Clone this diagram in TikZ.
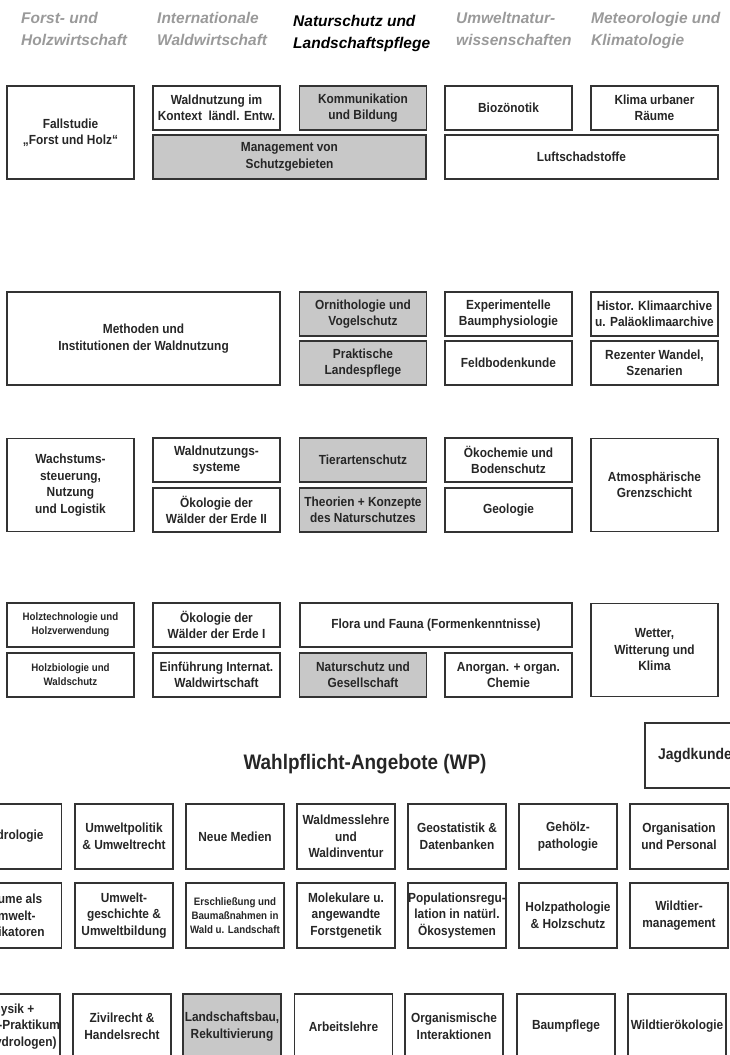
\documentclass[tikz,border=0pt]{standalone}
\usepackage{fontspec}
\setmainfont{Liberation Sans}
\newfontfamily\narrowsans{Liberation Sans}[FakeStretch=0.9]

\definecolor{boxgray}{HTML}{C8C8C8}
\definecolor{headgray}{HTML}{9A9A9A}
\definecolor{boxline}{HTML}{333333}

\begin{document}
\begin{tikzpicture}[x=1pt,y=-1pt,
    kopf/.style={anchor=north west,inner sep=0pt,align=left,text=headgray,
      font=\bfseries\itshape\fontsize{15.5}{22.5}\selectfont},
    modul/.style={draw=boxline,line width=1.3pt,inner sep=0pt,align=center,
      text=black!85,font=\narrowsans\bfseries\fontsize{13.2}{16.5}\selectfont},
    nsmodul/.style={modul,fill=boxgray},
    klein/.style={font=\narrowsans\bfseries\fontsize{10.8}{14}\selectfont},
    schmal/.style={minimum width=127pt},
    breit/.style={minimum width=273pt},
    hoch/.style={minimum height=93pt},
    flach/.style={minimum height=44pt},
    wp/.style={modul,minimum width=98pt,minimum height=65pt}]
  \useasboundingbox (0,0) rectangle (729,1055);

  % Studienrichtungen
  \node[kopf] (h-forst) at (21,12) {Forst- und\\Holzwirtschaft};
  \node[kopf] (h-intern) at (157,12) {Internationale\\Waldwirtschaft};
  \node[kopf,text=black] (h-natur) at (293,15) {Naturschutz und\\Landschaftspflege};
  \node[kopf] (h-umwelt) at (456,12) {Umweltnatur-\\wissenschaften};
  \node[kopf] (h-meteo) at (591,12) {Meteorologie und\\Klimatologie};

  % Zeile 1
  \node[modul,schmal,hoch] (fallstudie) at (70.5,132.5) {Fallstudie\\„Forst und Holz“};
  \node[modul,schmal,flach] (waldkontext) at (216.5,108) {Waldnutzung im\\Kontext\ \ ländl. Entw.};
  \node[nsmodul,schmal,flach] (kommunikation) at (363,108) {Kommunikation\\und Bildung};
  \node[nsmodul,breit,flach] (management) at (289.5,157) {Management von\\Schutzgebieten};
  \node[modul,schmal,flach] (biozoenotik) at (508.5,108) {Biozönotik};
  \node[modul,schmal,flach] (klimaurban) at (654.5,108) {Klima urbaner\\Räume};
  \node[modul,breit,flach] (luftschad) at (581.5,157) {Luftschadstoffe};

  % Zeile 2
  \node[modul,breit,hoch] (methoden) at (143.5,338.5) {Methoden und\\Institutionen der Waldnutzung};
  \node[nsmodul,schmal,flach] (ornitho) at (363,314) {Ornithologie und\\Vogelschutz};
  \node[nsmodul,schmal,flach] (landespflege) at (363,363) {Praktische\\Landespflege};
  \node[modul,schmal,flach] (baumphys) at (508.5,314) {Experimentelle\\Baumphysiologie};
  \node[modul,schmal,flach] (feldboden) at (508.5,363) {Feldbodenkunde};
  \node[modul,schmal,flach] (klimaarchiv) at (654.5,314) {Histor. Klimaarchive\\u. Paläoklimaarchive};
  \node[modul,schmal,flach] (wandel) at (654.5,363) {Rezenter Wandel,\\Szenarien};

  % Zeile 3
  \node[modul,schmal,hoch] (wachstum) at (70.5,485) {Wachstums-\\steuerung,\\Nutzung\\und Logistik};
  \node[modul,schmal,flach] (nutzsysteme) at (216.5,460) {Waldnutzungs-\\systeme};
  \node[modul,schmal,flach] (oekozwei) at (216.5,510) {Ökologie der\\Wälder der Erde II};
  \node[nsmodul,schmal,flach] (tierarten) at (363,460) {Tierartenschutz};
  \node[nsmodul,schmal,flach] (theorien) at (363,510) {Theorien + Konzepte\\des Naturschutzes};
  \node[modul,schmal,flach] (oekochemie) at (508.5,460) {Ökochemie und\\Bodenschutz};
  \node[modul,schmal,flach] (geologie) at (508.5,510) {Geologie};
  \node[modul,schmal,hoch] (grenzschicht) at (654.5,485) {Atmosphärische\\Grenzschicht};

  % Zeile 4
  \node[modul,klein,schmal,flach] (holztech) at (70.5,625) {Holztechnologie und\\Holzverwendung};
  \node[modul,klein,schmal,flach] (holzbio) at (70.5,675) {Holzbiologie und\\Waldschutz};
  \node[modul,schmal,flach] (oekoeins) at (216.5,625) {Ökologie der\\Wälder der Erde I};
  \node[modul,schmal,flach] (einfuehrung) at (216.5,675) {Einführung Internat.\\Waldwirtschaft};
  \node[modul,minimum width=272pt,flach] (florafauna) at (436,625) {Flora und Fauna (Formenkenntnisse)};
  \node[nsmodul,schmal,flach] (gesellschaft) at (363,675) {Naturschutz und\\Gesellschaft};
  \node[modul,schmal,flach] (chemie) at (508.5,675) {Anorgan. + organ.\\Chemie};
  \node[modul,schmal,hoch] (wetter) at (654.5,650) {Wetter,\\Witterung und\\Klima};

  % Wahlpflicht
  \node[modul,minimum width=100pt,minimum height=65pt,
    font=\narrowsans\bfseries\fontsize{15.5}{18}\selectfont] (jagd) at (695,755.5) {Jagdkunde};
  \node[text=black!85,font=\narrowsans\bfseries\fontsize{21}{25}\selectfont] (wptitel) at (365,764) {Wahlpflicht-Angebote (WP)};

  \node[wp] (hydro) at (12.5,836.5) {Hydrologie};
  \node[wp] (umweltpol) at (124,836.5) {Umweltpolitik\\\& Umweltrecht};
  \node[wp] (medien) at (235,836.5) {Neue Medien};
  \node[wp] (messlehre) at (346,836.5) {Waldmesslehre\\und\\Waldinventur};
  \node[wp] (geostat) at (457,836.5) {Geostatistik \&\\Datenbanken};
  \node[wp] (gehoelz) at (568,836.5) {Gehölz-\\pathologie};
  \node[wp] (personal) at (679,836.5) {Organisation\\und Personal};

  \node[wp] (indikator) at (12.5,915.5) {Bäume als\\Umwelt-\\indikatoren};
  \node[wp] (umweltgesch) at (124,915.5) {Umwelt-\\geschichte \&\\Umweltbildung};
  \node[wp,klein] (erschliessung) at (235,915.5) {Erschließung und\\Baumaßnahmen in\\Wald u. Landschaft};
  \node[wp] (genetik) at (346,915.5) {Molekulare u.\\angewandte\\Forstgenetik};
  \node[wp] (population) at (457,915.5) {Populationsregu-\\lation in natürl.\\Ökosystemen};
  \node[wp] (holzpath) at (568,915.5) {Holzpathologie\\\& Holzschutz};
  \node[wp] (wildmanag) at (679,915.5) {Wildtier-\\management};

  \node[wp] (physik) at (10,1026.5) {Physik +\\Physik-Praktikum\\(für Hydrologen)};
  \node[wp] (zivilrecht) at (122,1026.5) {Zivilrecht \&\\Handelsrecht};
  \node[wp,fill=boxgray] (rekult) at (232,1026.5) {Landschaftsbau,\\Rekultivierung};
  \node[wp] (arbeit) at (343.5,1026.5) {Arbeitslehre};
  \node[wp] (interakt) at (454,1026.5) {Organismische\\Interaktionen};
  \node[wp] (baumpflege) at (566,1026.5) {Baumpflege};
  \node[wp] (wildoeko) at (677,1026.5) {Wildtierökologie};
\end{tikzpicture}
\end{document}
